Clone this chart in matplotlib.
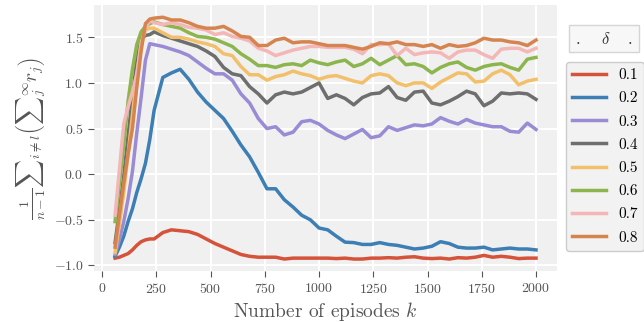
import matplotlib
matplotlib.use("Agg")
import matplotlib.pyplot as plt

plt.rcParams["font.family"] = "serif"
plt.rcParams["font.serif"] = ["cmr10"]
plt.rcParams["mathtext.fontset"] = "cm"
plt.rcParams["axes.formatter.use_mathtext"] = True

# episode index at which each running average was sampled
episodes = [60, 80, 100, 120, 140, 160, 180, 200, 220,
            240, 280, 320, 360, 400, 440, 480, 520, 560, 600,
            640, 680, 720, 760, 800, 840, 880, 920, 960, 1000,
            1040, 1080, 1120, 1160, 1200, 1240, 1280, 1320, 1360, 1400,
            1440, 1480, 1520, 1560, 1600, 1640, 1680, 1720, 1760, 1800,
            1840, 1880, 1920, 1960, 2000]

deltas = ["0.1", "0.2", "0.3", "0.4", "0.5", "0.6", "0.7", "0.8"]

reward_01 = [-0.92, -0.91, -0.89, -0.87, -0.83, -0.78, -0.74, -0.72, -0.71,
             -0.71, -0.64, -0.61, -0.62, -0.63, -0.66, -0.71, -0.76, -0.80, -0.84,
             -0.88, -0.90, -0.91, -0.91, -0.91, -0.93, -0.92, -0.92, -0.92, -0.92,
             -0.92, -0.925, -0.92, -0.93, -0.93, -0.92, -0.92, -0.915, -0.92, -0.91,
             -0.905, -0.92, -0.925, -0.92, -0.93, -0.915, -0.92, -0.91, -0.89, -0.91,
             -0.90, -0.91, -0.925, -0.92, -0.92]
reward_02 = [-0.90, -0.80, -0.68, -0.52, -0.38, -0.20, -0.05, 0.12, 0.38,
             0.70, 1.06, 1.11, 1.15, 1.04, 0.90, 0.79, 0.70, 0.61, 0.47,
             0.32, 0.19, 0.02, -0.16, -0.16, -0.28, -0.36, -0.45, -0.50, -0.59,
             -0.61, -0.68, -0.745, -0.75, -0.77, -0.77, -0.75, -0.77, -0.78, -0.80,
             -0.82, -0.81, -0.79, -0.74, -0.76, -0.80, -0.81, -0.81, -0.80, -0.83,
             -0.82, -0.81, -0.82, -0.82, -0.83]
reward_03 = [-0.88, -0.72, -0.52, -0.27, 0.03, 0.45, 0.84, 1.25, 1.43,
             1.42, 1.40, 1.37, 1.34, 1.30, 1.23, 1.16, 1.10, 1.10, 1.03,
             0.88, 0.78, 0.61, 0.50, 0.52, 0.43, 0.46, 0.575, 0.59, 0.55,
             0.48, 0.43, 0.39, 0.44, 0.49, 0.40, 0.42, 0.52, 0.48, 0.51,
             0.54, 0.53, 0.55, 0.62, 0.58, 0.55, 0.60, 0.56, 0.54, 0.52,
             0.52, 0.47, 0.46, 0.56, 0.49]
reward_04 = [-0.75, -0.40, -0.02, 0.42, 0.85, 1.25, 1.48, 1.52, 1.53,
             1.56, 1.52, 1.49, 1.46, 1.43, 1.40, 1.35, 1.29, 1.17, 1.10,
             1.08, 0.96, 0.88, 0.78, 0.87, 0.90, 0.88, 0.90, 0.95, 1.00,
             0.83, 0.87, 0.83, 0.76, 0.84, 0.88, 0.89, 0.96, 0.84, 0.81,
             0.90, 0.91, 0.78, 0.76, 0.80, 0.85, 0.91, 0.88, 0.75, 0.80,
             0.89, 0.88, 0.89, 0.88, 0.82]
reward_05 = [-0.86, -0.55, -0.20, 0.22, 0.65, 1.08, 1.45, 1.58, 1.60,
             1.60, 1.55, 1.50, 1.50, 1.48, 1.45, 1.43, 1.40, 1.32, 1.30,
             1.18, 1.09, 1.09, 1.03, 1.07, 1.09, 1.13, 1.10, 1.08, 1.04,
             1.07, 1.08, 1.05, 1.02, 1.00, 1.08, 1.10, 1.08, 1.00, 0.97,
             1.00, 1.00, 0.94, 1.01, 1.06, 1.11, 1.10, 1.01, 1.02, 1.10,
             1.14, 1.09, 0.98, 1.02, 1.04]
reward_06 = [-0.52, -0.10, 0.32, 0.80, 1.15, 1.42, 1.56, 1.62, 1.65,
             1.67, 1.64, 1.62, 1.60, 1.55, 1.51, 1.50, 1.48, 1.44, 1.40,
             1.32, 1.26, 1.19, 1.19, 1.17, 1.20, 1.21, 1.19, 1.25, 1.22,
             1.20, 1.23, 1.25, 1.18, 1.21, 1.27, 1.20, 1.25, 1.30, 1.20,
             1.21, 1.18, 1.11, 1.17, 1.21, 1.23, 1.17, 1.14, 1.18, 1.20,
             1.21, 1.17, 1.14, 1.26, 1.28]
reward_07 = [-0.45, 0.05, 0.55, 0.74, 0.90, 1.10, 1.40, 1.60, 1.68,
             1.66, 1.64, 1.66, 1.64, 1.61, 1.60, 1.58, 1.53, 1.55, 1.51,
             1.49, 1.46, 1.38, 1.35, 1.30, 1.33, 1.36, 1.38, 1.40, 1.40,
             1.39, 1.39, 1.39, 1.37, 1.32, 1.42, 1.42, 1.43, 1.30, 1.38,
             1.31, 1.33, 1.34, 1.33, 1.27, 1.34, 1.36, 1.36, 1.31, 1.27,
             1.37, 1.38, 1.38, 1.34, 1.38]
reward_08 = [-0.80, -0.45, -0.10, 0.22, 0.50, 0.95, 1.35, 1.65, 1.70,
             1.71, 1.72, 1.69, 1.69, 1.66, 1.62, 1.60, 1.60, 1.62, 1.57,
             1.51, 1.50, 1.41, 1.41, 1.47, 1.49, 1.44, 1.45, 1.45, 1.43,
             1.41, 1.41, 1.41, 1.39, 1.37, 1.40, 1.44, 1.43, 1.45, 1.42,
             1.42, 1.40, 1.42, 1.38, 1.42, 1.40, 1.41, 1.44, 1.49, 1.47,
             1.47, 1.45, 1.44, 1.41, 1.47]

rewards = [reward_01, reward_02, reward_03, reward_04,
           reward_05, reward_06, reward_07, reward_08]
colors = ["#D5523B", "#3D7FB4", "#9A8BD5", "#6E6E6E",
          "#F2C06A", "#8DB54E", "#F4B6B6", "#D6844F"]

fig = plt.figure(figsize=(6.44, 3.22), dpi=100)
ax = fig.add_axes([0.146, 0.158, 0.719, 0.826])
ax.set_facecolor("#F0F0F0")
for side in ax.spines.values():
    side.set_visible(False)
ax.grid(True, color="white", linewidth=1.4)
ax.set_axisbelow(True)
ax.tick_params(length=4, width=0.8, color="#555555", labelcolor="#555555",
               labelsize=10)

for d, r, c in zip(deltas, rewards, colors):
    ax.plot(episodes, r, color=c, linewidth=2.5, label=d)

ax.set_xlim(-37, 2097)
ax.set_xticks([0, 250, 500, 750, 1000, 1250, 1500, 1750, 2000])
ax.set_yticks([-1.0, -0.5, 0.0, 0.5, 1.0, 1.5])
ax.set_xlabel("Number of episodes $k$", fontsize=14, color="#555555",
              labelpad=3)
# braces around \sum keep the limits beside the sign, as in inline style
ax.set_ylabel(r"$\frac{1}{n-1}{\sum}_{i\neq l}\left({\sum}_j^\infty r_j\right)$",
              fontsize=14, color="#555555", labelpad=4)

leg = ax.legend(loc="upper left", bbox_to_anchor=(1.02, 0.785), fontsize=11,
                labelspacing=0.62, handlelength=2.2, borderaxespad=0.0,
                facecolor="#F2F2F2", edgecolor="#CCCCCC", framealpha=1.0)
for line in leg.get_lines():
    line.set_linewidth(2.5)

fig.text(0.938, 0.88, r"$.\quad\;\delta\quad\;.$", fontsize=12, ha="center",
         va="center", color="#333333",
         bbox=dict(boxstyle="square,pad=0.35", fc="#F7F7F7", ec="#D5D5D5"))

fig.savefig("out.png", dpi=100)
